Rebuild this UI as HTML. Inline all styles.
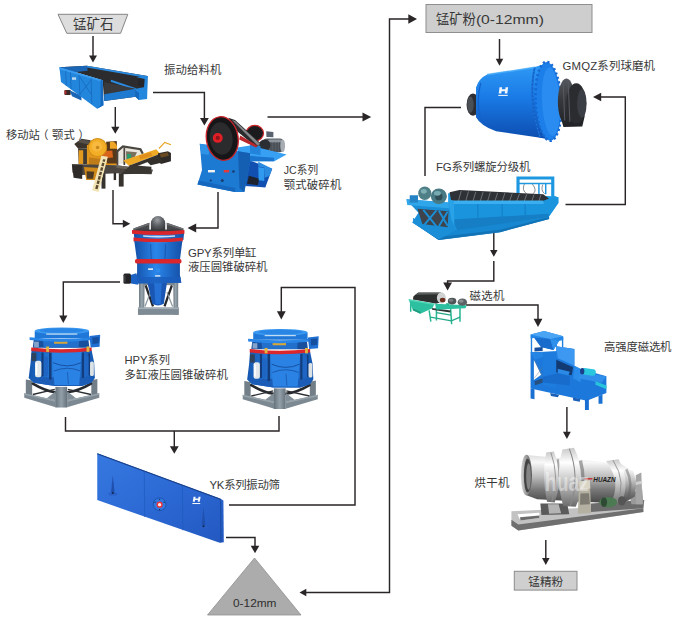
<!DOCTYPE html>
<html lang="zh">
<head>
<meta charset="utf-8">
<title>锰矿石加工流程</title>
<style>
html,body{margin:0;padding:0;background:#fff;}
body{width:700px;height:629px;overflow:hidden;}
svg{display:block;}
text{font-family:"Liberation Sans","Noto Sans CJK SC",sans-serif;fill:#383838;}
.ln{fill:none;stroke:#2a2526;stroke-width:1.45;}
.ah{fill:#2a2526;stroke:none;}
</style>
</head>
<body>
<svg width="700" height="629" viewBox="0 0 700 629">
<defs>
</defs>
<rect width="700" height="629" fill="#ffffff"/>

<!-- ===== flow lines ===== -->
<g id="lines">
<path class="ln" d="M93 36L93 57"/>
<path class="ah" d="M93 62.500L89 55.500L97 55.500Z"/>
<path class="ln" d="M115.300 107L115.300 128"/>
<path class="ah" d="M115.300 133.800L111.200 126.800L119.400 126.800Z"/>
<path class="ln" d="M153 92.500L204.400 92.500L204.400 119"/>
<path class="ah" d="M204.400 125.500L200 118L208.800 118Z"/>
<path class="ln" d="M113 190L113 223.700L123.500 223.700"/>
<path class="ah" d="M130.300 223.700L122.800 219.700L122.800 227.700Z"/>
<path class="ln" d="M218 192L218 228L195 228"/>
<path class="ah" d="M187.500 228L196.200 223.600L196.200 232.400Z"/>
<path class="ln" d="M267.500 117L364 117"/>
<path class="ah" d="M371.200 117L362.500 112.400L362.500 121.600Z"/>
<path class="ln" d="M120 282L63.300 282L63.300 316.500"/>
<path class="ah" d="M63.300 323L59.200 315.500L67.400 315.500Z"/>
<path class="ln" d="M229 505L355 505L355 287.500L281.300 287.500L281.300 312.500"/>
<path class="ah" d="M281.300 319.500L276.900 311.300L285.700 311.300Z"/>
<path class="ln" d="M65.500 417L65.500 431L279 431L279 416"/>
<path class="ln" d="M174.300 431L174.300 447"/>
<path class="ah" d="M174.300 453.800L169.900 446.300L178.700 446.300Z"/>
<path class="ln" d="M226 537.500L255 537.500L255 547"/>
<path class="ah" d="M255 553.200L250.750 545.700L259.250 545.700Z"/>
<path class="ln" d="M409.500 19L389.500 19L389.500 592.500L305.500 592.500"/>
<path class="ah" d="M417 19L408.300 14.250L408.300 23.750Z"/>
<path class="ah" d="M299.500 592.500L306.300 588.700L306.300 596.300Z"/>
<path class="ln" d="M499.500 39L499.500 60"/>
<path class="ah" d="M499.500 65.700L495.750 58.700L503.250 58.700Z"/>
<path class="ln" d="M461 107.500L425 107.500L425 176"/>
<path class="ln" d="M565.500 204.500L625.300 204.500L625.300 97L600 97"/>
<path class="ah" d="M593 97L601.200 92.850L601.200 101.150Z"/>
<path class="ln" d="M493.800 230L493.800 251"/>
<path class="ah" d="M493.800 256.800L490.050 250L497.550 250Z"/>
<path class="ln" d="M493.800 261L493.800 281L447.600 281L447.600 284"/>
<path class="ah" d="M447.600 290.500L443.200 282.500L452 282.500Z"/>
<path class="ln" d="M466 305L538 305L538 320"/>
<path class="ah" d="M538 327L533.600 318.800L542.400 318.800Z"/>
<path class="ln" d="M566.900 407L566.900 433"/>
<path class="ah" d="M566.900 439L563 431.800L570.800 431.800Z"/>
<path class="ln" d="M545.800 540L545.800 559"/>
<path class="ah" d="M545.800 565L542.050 558L549.550 558Z"/>
</g>

<!-- ===== label shapes ===== -->
<g id="shapes">
<path d="M58 14.300H127.800L120.600 33.300H66.800Z" fill="#dddddd" stroke="#858585" stroke-width="1"/>
<rect x="426" y="4.500" width="166" height="28" fill="#cecece" stroke="#8e8e8e" stroke-width="1"/>
<rect x="514.300" y="571.300" width="62.700" height="18.800" fill="#cfcfcf" stroke="#8c8c8c" stroke-width="1"/>
<path d="M254.500 558L301 615H207.500Z" fill="#acacac" stroke="#8f8f8f" stroke-width="0.800"/>
</g>

<!-- ===== machines ===== -->
<g id="m-feeder">
<g transform="translate(50,55) scale(0.15714)">
 <!-- interior / far wall liner -->
 <polygon points="60,78 235,68 620,133 616,276 545,266 345,292 335,160" fill="#2c2c2e"/>
 <!-- left end wall inner face -->
 <polygon points="60,78 235,68 240,100 150,110" fill="#1a66b4"/>
 <!-- far wall top rim -->
 <polygon points="235,68 620,133 620,146 235,80" fill="#2a8ae0"/>
 <polygon points="389,158 548,212 546,224 386,170" fill="#2a8ae0"/>
 <!-- floor highlight -->
 <polygon points="345,172 545,214 345,250" fill="#3a3a3c"/>
 <!-- right end of far wall -->
 <polygon points="548,140 622,134 618,280 566,286 545,268 545,214 598,206 602,152" fill="#2387de"/><polygon points="545,268 566,286 566,240 545,226" fill="#1668be"/>
 <polygon points="562,152 600,156 598,204 560,196" fill="#26262a"/>
 <!-- bottom beam -->
 <polygon points="345,250 545,214 545,266 345,292" fill="#1e7ad0"/>
 <!-- motor stub -->
 <rect x="92" y="222" width="40" height="32" rx="6" fill="#3a2a2a"/>
 <rect x="92" y="226" width="12" height="24" fill="#b03030"/>
 <polygon points="125,225 200,260 200,290 140,262" fill="#1a66b4"/>
 <!-- front panel -->
 <polygon points="60,78 335,160 340,320 300,342 70,172" fill="#2286dc"/>
 <polygon points="60,78 335,160 335,172 60,90" fill="#3a9cf0"/>
 <polygon points="300,342 340,320 335,160 322,158 322,318" fill="#166ac0"/>
 <g stroke="#1668bc" stroke-width="5" fill="none">
  <path d="M100,100 L104,196"/><path d="M130,110 L134,218"/><path d="M185,126 L190,258"/><path d="M262,148 L266,312"/>
  <path d="M190,140 L262,250 M262,160 L190,250"/>
 </g>
 <rect x="140" y="142" width="26" height="16" fill="#dfeaf6" opacity=".8"/>
</g>
</g><!--/m-feeder-->
<g id="m-mobile">
<g transform="translate(65,130) scale(0.17143)">
 <!-- hopper -->
 <polygon points="54,82 96,51 150,60 140,108 76,108" fill="#3a342d"/>
 <polygon points="70,70 98,56 144,64 138,84" fill="#55504a"/>
 <!-- under hopper -->
 <polygon points="76,106 140,108 140,200 80,200" fill="#3f3a34"/>
 <polygon points="80,118 106,118 106,198 80,198" fill="#e39a20"/>
 <!-- body -->
 <polygon points="128,88 300,70 305,205 128,205" fill="#e2971c"/>
 <polygon points="240,68 302,64 306,196 244,196" fill="#57381a"/>
 <path d="M262,70 Q290,56 304,96 L304,110 L262,110Z" fill="#eea424"/>
 <polygon points="218,124 276,120 280,160 214,166" fill="#d8641a"/>
 <circle cx="190" cy="102" r="53" fill="#f4ae26" stroke="#cf8c18" stroke-width="6"/>
 <circle cx="186" cy="96" r="30" fill="#f8bf48" opacity=".7"/>
 <circle cx="190" cy="102" r="10" fill="#c9861a"/>
 <polygon points="140,160 240,170 236,204 140,204" fill="#c07c18"/>
 <!-- cab -->
 <polygon points="308,118 346,96 440,112 452,136 440,180 346,196 308,200" fill="#e9e6de"/>
 <path d="M302,126 L338,96 L440,112 L454,138" fill="none" stroke="#4a4640" stroke-width="13"/>
 <path d="M306,120 L306,204 M346,102 L346,204" stroke="#4a453f" stroke-width="10"/>
 <polygon points="356,124 420,130 400,172 358,184" fill="#7a705e"/>
 <rect x="362" y="140" width="24" height="32" fill="#2a9d6e"/>
 <!-- conveyor -->
 <polygon points="340,178 532,112 556,138 372,208" fill="#eeaa26"/>
 <polygon points="430,150 500,130 510,150 440,172" fill="#e08e1c"/>
 <polygon points="372,208 556,138 562,156 392,222" fill="#36322e"/>
 <polygon points="543,135 600,124 618,134 618,182 560,198 540,180" fill="#2d2a27"/>
 <polygon points="552,140 600,130 606,150 560,162" fill="#6a4a22"/>
 <polygon points="470,176 548,158 580,186 500,206" fill="#33302c"/>
 <path d="M548,108 L582,72 L618,86" fill="none" stroke="#e9a624" stroke-width="7"/>
 <!-- chassis -->
 <polygon points="40,198 300,206 512,232 505,258 300,252 100,262 44,250" fill="#4a4540"/>
 <polygon points="300,206 512,232 508,244 300,222" fill="#6a635a"/>
 <polygon points="42,206 102,204 100,286 50,278" fill="#2e2b28"/>
 <polygon points="110,216 206,222 188,292 124,292" fill="#cf881a"/>
 <polygon points="126,240 170,244 164,284 128,284" fill="#4a3a24"/>
 <polygon points="382,204 504,214 504,254 326,258" fill="#3a3632"/>
 <rect x="213" y="252" width="23" height="90" fill="#36332f"/>
 <rect x="314" y="252" width="28" height="78" fill="#36332f"/>
 <rect x="284" y="250" width="14" height="42" fill="#2e2b29"/>
 <!-- ladder -->
 <polygon points="212,150 250,156 196,362 158,352" fill="#f2e4b4"/>
 <polygon points="222,170 236,172 190,346 176,342" fill="#5a4a30"/>
 <g stroke="#f2e4b4" stroke-width="7"><path d="M214,186 L240,192 M207,212 L233,218 M200,238 L226,244 M194,264 L220,270 M187,290 L213,296 M180,316 L206,322"/></g>
</g>
</g><!--/m-mobile-->
<g id="m-jaw">
<g transform="translate(190,110) scale(0.15)">
 <!-- right lower -->
 <polygon points="395,335 548,392 502,516 368,506" fill="#1150b0"/>
 <polygon points="392,438 462,458 452,502 380,492" fill="#1d2430"/>
 <polygon points="455,345 548,392 530,440 498,452 494,384 455,376" fill="#2a8be0"/><polygon points="455,380 495,386 495,474 458,468" fill="#2f9af0"/>
 <!-- small flywheel -->
 <ellipse cx="432" cy="155" rx="58" ry="52" fill="#1b1b1d" stroke="#c8242a" stroke-width="8"/>
 <!-- motor -->
 <rect x="484" y="190" width="142" height="92" rx="28" fill="#555b63"/>
 <rect x="520" y="196" width="92" height="20" rx="10" fill="#8d949c"/><path d="M540,214 L540,280 M560,214 L560,282 M580,214 L580,282 M598,214 L598,280" stroke="#3e434a" stroke-width="5"/>
 <ellipse cx="618" cy="238" rx="16" ry="42" fill="#a7adb3"/>
 <circle cx="498" cy="234" r="38" fill="#2b2e33"/>
 <polygon points="508,142 556,146 556,182 510,180" fill="#59636f"/>
 <!-- motor platform -->
 <polygon points="316,250 400,236 644,296 562,342 400,342 316,332" fill="#37a0f2"/>
 <polygon points="320,300 560,318 560,342 400,342 320,332" fill="#1b76cf"/>
 <polygon points="400,228 470,240 470,300 400,290" fill="#2183da"/>
 <!-- belt -->
 <polygon points="255,52 300,66 476,226 440,246 300,130" fill="#2b2b2e"/><polygon points="280,66 300,74 468,226 450,236" fill="#85878b"/>
 <polygon points="335,170 450,238 440,250 328,196" fill="#b9262b"/>
 <!-- body -->
 <polygon points="65,225 130,235 320,275 400,288 400,350 362,546 300,546 50,496 80,400" fill="#1d7ad2"/>
 <polygon points="320,275 400,288 400,350 362,546 330,522" fill="#155fb2"/>
 <polygon points="65,225 130,235 125,300 75,292" fill="#2e92e6"/>
 <polygon points="50,496 300,546 302,520 58,470" fill="#1668be"/>
 <rect x="120" y="400" width="46" height="16" fill="#f2f2f2"/>
 <rect x="225" y="400" width="36" height="16" fill="#e63a3a"/>
 <circle cx="215" cy="470" r="10" fill="#173e70"/><circle cx="138" cy="470" r="7" fill="#173e70"/><circle cx="290" cy="410" r="9" fill="#173e70"/>
 <!-- flywheel -->
 <ellipse cx="215" cy="190" rx="106" ry="146" transform="rotate(-8 215 190)" fill="#161618" stroke="#c8242a" stroke-width="9"/>
 <ellipse cx="208" cy="190" rx="76" ry="108" transform="rotate(-8 208 190)" fill="#2b2b2e"/>
 <circle cx="185" cy="186" r="33" fill="#e21f26"/>
 <circle cx="185" cy="186" r="14" fill="#8e1418"/>
</g>
</g><!--/m-jaw-->
<g id="m-gpy">
<g transform="translate(110,210) scale(0.17476)">
 <defs>
  <linearGradient id="gpyB" x1="0" x2="1"><stop offset="0" stop-color="#1450a8"/><stop offset=".45" stop-color="#2a86ea"/><stop offset="1" stop-color="#1450a8"/></linearGradient>
  <radialGradient id="gpyD" cx=".45" cy=".25" r=".75"><stop offset="0" stop-color="#9da1a6"/><stop offset=".5" stop-color="#5b5e63"/><stop offset="1" stop-color="#34363a"/></radialGradient>
  <linearGradient id="gpyS" x1="0" x2="1"><stop offset="0" stop-color="#6e7a84"/><stop offset=".5" stop-color="#9aa6ae"/><stop offset="1" stop-color="#6e7a84"/></linearGradient>
 </defs>
 <!-- stand -->
 <rect x="166" y="408" width="224" height="22" fill="#7c8891"/>
 <polygon points="166,412 198,412 196,600 166,600" fill="url(#gpyS)"/>
 <polygon points="362,412 390,412 390,600 364,600" fill="url(#gpyS)"/>
 <rect x="160" y="558" width="234" height="42" fill="#7f8b94"/>
 <rect x="160" y="558" width="234" height="9" fill="#a3aeb6"/>
 <g stroke="#24262a" stroke-width="13" fill="none"><path d="M204,432 L246,552 M354,432 L312,552"/></g>
 <g stroke="#8b969e" stroke-width="7" fill="none"><path d="M200,552 L232,470 M358,552 L326,470"/></g>
 <!-- inner cone -->
 <path d="M214,416 L326,416 L308,536 Q275,556 242,536Z" fill="#1a56b4"/>
 <polygon points="252,416 296,416 290,540 260,540" fill="#2470d4"/>
 <!-- dome + hopper -->
 <path d="M234,124 L234,76 A41,41 0 0 1 316,76 L316,124Z" fill="url(#gpyD)"/>
 <polygon points="134,106 225,73 225,124 134,124" fill="#47494d"/>
 <polygon points="325,73 420,106 420,124 325,124" fill="#47494d"/>
 <polygon points="134,106 225,73 225,84 134,114" fill="#6c6e72"/><polygon points="325,73 420,106 420,114 325,84" fill="#6c6e72"/>
 <rect x="150" y="112" width="250" height="14" fill="#3a3c40"/>
 <!-- upper band -->
 <path d="M136,132 Q280,146 424,132 L420,172 Q280,186 140,172Z" fill="url(#gpyB)"/>
 <path d="M126,114 Q280,128 426,114 L426,136 Q280,150 126,136Z" fill="#d9252c"/>
 <path d="M134,158 Q280,172 417,158 L416,180 Q280,194 135,180Z" fill="#d9252c"/>
 <path d="M190,149 Q280,156 372,149" stroke="#e8f0fa" stroke-width="9" fill="none" opacity=".85"/>
 <!-- cone -->
 <path d="M139,178 Q280,192 414,178 L399,294 L155,294Z" fill="url(#gpyB)"/>
 <path d="M232,196 L236,282 M318,196 L314,282" stroke="#1650a6" stroke-width="6" opacity=".7"/>
 <!-- lower body -->
 <path d="M155,300 L400,300 L400,372 L408,416 L142,420 L150,372 L155,360Z" fill="url(#gpyB)"/>
 <path d="M150,384 L404,384 L408,416 L142,420Z" fill="#1a5cbc" opacity=".8"/>
 <rect x="143" y="280" width="266" height="26" rx="10" fill="#d9252c"/>
 <rect x="218" y="334" width="28" height="9" fill="#eef3f8"/><circle cx="275" cy="345" r="13" fill="#2f8cec"/><rect x="258" y="372" width="30" height="10" fill="#dfe8f2" opacity=".8"/>
 <!-- knob -->
 <polygon points="118,372 150,362 162,428 120,420" fill="#1b62c4"/>
 <rect x="77" y="364" width="43" height="58" rx="9" fill="#232326"/>
 <rect x="80" y="372" width="10" height="42" rx="4" fill="#3b3c40"/>
</g>
</g><!--/m-gpy-->
<g id="m-hpy1">
<g transform="translate(15,315) scale(0.15898)">
 <defs>
  <linearGradient id="hpyB" x1="0" x2="1"><stop offset="0" stop-color="#1556ae"/><stop offset=".5" stop-color="#2b88ea"/><stop offset="1" stop-color="#1556ae"/></linearGradient>
  <linearGradient id="hpyS" x1="0" x2="1"><stop offset="0" stop-color="#66727c"/><stop offset=".5" stop-color="#93a0a9"/><stop offset="1" stop-color="#66727c"/></linearGradient>
 </defs>
 <!-- stand -->
 <polygon points="68,406 108,412 108,526 68,518" fill="#727e88"/>
 <polygon points="480,410 518,402 518,520 480,528" fill="#727e88"/>
 <polygon points="58,492 256,536 256,580 58,520" fill="#7d8992"/>
 <polygon points="328,536 530,492 530,520 328,580" fill="#7d8992"/>
 <polygon points="58,492 256,536 256,546 58,502" fill="#98a4ac"/><polygon points="328,536 530,492 530,502 328,546" fill="#98a4ac"/>
 <g stroke="#26292d" stroke-width="17" fill="none" stroke-linecap="round"><path d="M112,432 Q190,478 252,486 M478,432 Q400,478 330,486"/></g>
 <g stroke="#2c2f33" stroke-width="9" fill="none"><path d="M112,500 L250,468 M478,500 L332,468"/></g>
 <polygon points="200,524 256,480 256,536" fill="#828e97"/><polygon points="384,524 328,480 328,536" fill="#828e97"/>
 <polygon points="254,452 328,452 328,582 254,582" fill="url(#hpyS)"/>
 <!-- body -->
 <path d="M104,222 L482,222 L498,300 L502,396 L480,426 L420,446 L250,446 L118,426 L86,396 L98,300Z" fill="url(#hpyB)"/>
 <path d="M86,392 L502,392 L480,426 L420,446 L250,446 L118,426Z" fill="#1a5cb6"/>
 <path d="M232,232 L420,232 L404,440 L248,440Z" fill="#2a82e4"/>
 <path d="M240,300 Q330,340 415,300" stroke="#154e9e" stroke-width="6" fill="none"/>
 <path d="M245,352 Q330,318 410,352" stroke="#154e9e" stroke-width="5" fill="none"/>
 <path d="M330,360 L336,436" stroke="#154e9e" stroke-width="4"/>
 <!-- dark gaps -->
 <g fill="#123c7c"><rect x="166" y="236" width="14" height="150"/><rect x="214" y="236" width="16" height="170"/><rect x="420" y="236" width="14" height="160"/><rect x="462" y="240" width="10" height="140"/></g>
 <!-- cylinders -->
 <rect x="126" y="288" width="40" height="104" rx="14" fill="#e4e8eb"/>
 <rect x="130" y="300" width="10" height="80" rx="5" fill="#ffffff"/>
 <rect x="182" y="262" width="26" height="124" rx="8" fill="#1f66c4"/>
 <rect x="472" y="292" width="24" height="92" rx="10" fill="#dde2e5"/>
 <rect x="436" y="258" width="26" height="128" rx="8" fill="#1f66c4"/>
 <rect x="104" y="238" width="30" height="52" fill="#2f435c"/>
 <!-- below flange -->
 <path d="M118,158 L462,158 L468,206 L112,206Z" fill="#18509e"/>
 <path d="M176,160 L404,160 L400,204 L180,204Z" fill="#2270cc"/>
 <rect x="246" y="166" width="84" height="15" fill="#d6a63a"/>
 <rect x="120" y="168" width="30" height="34" fill="#dfe7f0" opacity=".55"/>
 <!-- flange -->
 <path d="M92,140 Q290,160 484,140 L484,158 Q290,178 92,158Z" fill="#2a86e6"/>
 <!-- motor -->
 <polygon points="468,132 536,124 532,200 476,204" fill="#1f70d2"/>
 <polygon points="486,142 528,138 526,178 488,182" fill="#164f9e"/>
 <!-- red ring -->
 <path d="M102,204 Q290,226 482,204 L482,226 Q290,248 102,226Z" fill="#da262d"/>
 <rect x="196" y="198" width="18" height="34" fill="#e2b53c"/><rect x="450" y="198" width="18" height="34" fill="#e2b53c"/>
 <!-- cap -->
 <path d="M124,102 Q290,60 466,102 L466,146 L124,146Z" fill="#1f78d8"/>
 <ellipse cx="295" cy="100" rx="171" ry="22" fill="#3a98f0"/>
 <ellipse cx="295" cy="98" rx="140" ry="14" fill="#2a86e4"/>
 <path d="M196,120 L392,120" stroke="#dce8f5" stroke-width="8" opacity=".85"/>
</g>
</g><!--/m-hpy1-->
<g id="m-hpy2">
<g transform="translate(233.5,316.5) scale(0.15898)">
 <defs>
  <linearGradient id="hpyB2" x1="0" x2="1"><stop offset="0" stop-color="#1556ae"/><stop offset=".5" stop-color="#2b88ea"/><stop offset="1" stop-color="#1556ae"/></linearGradient>
  <linearGradient id="hpyS2" x1="0" x2="1"><stop offset="0" stop-color="#66727c"/><stop offset=".5" stop-color="#93a0a9"/><stop offset="1" stop-color="#66727c"/></linearGradient>
 </defs>
 <!-- stand -->
 <polygon points="68,406 108,412 108,526 68,518" fill="#727e88"/>
 <polygon points="480,410 518,402 518,520 480,528" fill="#727e88"/>
 <polygon points="58,492 256,536 256,580 58,520" fill="#7d8992"/>
 <polygon points="328,536 530,492 530,520 328,580" fill="#7d8992"/>
 <polygon points="58,492 256,536 256,546 58,502" fill="#98a4ac"/><polygon points="328,536 530,492 530,502 328,546" fill="#98a4ac"/>
 <g stroke="#26292d" stroke-width="17" fill="none" stroke-linecap="round"><path d="M112,432 Q190,478 252,486 M478,432 Q400,478 330,486"/></g>
 <g stroke="#2c2f33" stroke-width="9" fill="none"><path d="M112,500 L250,468 M478,500 L332,468"/></g>
 <polygon points="200,524 256,480 256,536" fill="#828e97"/><polygon points="384,524 328,480 328,536" fill="#828e97"/>
 <polygon points="254,452 328,452 328,582 254,582" fill="url(#hpyS2)"/>
 <!-- body -->
 <path d="M104,222 L482,222 L498,300 L502,396 L480,426 L420,446 L250,446 L118,426 L86,396 L98,300Z" fill="url(#hpyB2)"/>
 <path d="M86,392 L502,392 L480,426 L420,446 L250,446 L118,426Z" fill="#1a5cb6"/>
 <path d="M232,232 L420,232 L404,440 L248,440Z" fill="#2a82e4"/>
 <path d="M240,300 Q330,340 415,300" stroke="#154e9e" stroke-width="6" fill="none"/>
 <path d="M245,352 Q330,318 410,352" stroke="#154e9e" stroke-width="5" fill="none"/>
 <path d="M330,360 L336,436" stroke="#154e9e" stroke-width="4"/>
 <!-- dark gaps -->
 <g fill="#123c7c"><rect x="166" y="236" width="14" height="150"/><rect x="214" y="236" width="16" height="170"/><rect x="420" y="236" width="14" height="160"/><rect x="462" y="240" width="10" height="140"/></g>
 <!-- cylinders -->
 <rect x="126" y="288" width="40" height="104" rx="14" fill="#e4e8eb"/>
 <rect x="130" y="300" width="10" height="80" rx="5" fill="#ffffff"/>
 <rect x="182" y="262" width="26" height="124" rx="8" fill="#1f66c4"/>
 <rect x="472" y="292" width="24" height="92" rx="10" fill="#dde2e5"/>
 <rect x="436" y="258" width="26" height="128" rx="8" fill="#1f66c4"/>
 <rect x="104" y="238" width="30" height="52" fill="#2f435c"/>
 <!-- below flange -->
 <path d="M118,158 L462,158 L468,206 L112,206Z" fill="#18509e"/>
 <path d="M176,160 L404,160 L400,204 L180,204Z" fill="#2270cc"/>
 <rect x="246" y="166" width="84" height="15" fill="#d6a63a"/>
 <rect x="120" y="168" width="30" height="34" fill="#dfe7f0" opacity=".55"/>
 <!-- flange -->
 <path d="M92,140 Q290,160 484,140 L484,158 Q290,178 92,158Z" fill="#2a86e6"/>
 <!-- motor -->
 <polygon points="468,132 536,124 532,200 476,204" fill="#1f70d2"/>
 <polygon points="486,142 528,138 526,178 488,182" fill="#164f9e"/>
 <!-- red ring -->
 <path d="M102,204 Q290,226 482,204 L482,226 Q290,248 102,226Z" fill="#da262d"/>
 <rect x="196" y="198" width="18" height="34" fill="#e2b53c"/><rect x="450" y="198" width="18" height="34" fill="#e2b53c"/>
 <!-- cap -->
 <path d="M124,102 Q290,60 466,102 L466,146 L124,146Z" fill="#1f78d8"/>
 <ellipse cx="295" cy="100" rx="171" ry="22" fill="#3a98f0"/>
 <ellipse cx="295" cy="98" rx="140" ry="14" fill="#2a86e4"/>
 <path d="M196,120 L392,120" stroke="#dce8f5" stroke-width="8" opacity=".85"/>
</g>
</g><!--/m-hpy2-->
<g id="m-screen">
<g transform="translate(90,445) scale(0.20714)">
 <defs><linearGradient id="scrB" x1="0" y1="0" x2="1" y2="1"><stop offset="0" stop-color="#3678e0"/><stop offset=".5" stop-color="#2c69d4"/><stop offset="1" stop-color="#2358c0"/></linearGradient></defs>
 <polygon points="35,40 630,260 644,268 646,470 626,472 35,266" fill="url(#scrB)"/>
 <path d="M35,42 L630,262" stroke="#173f86" stroke-width="5"/>
 <path d="M630,262 L632,470" stroke="#184a9c" stroke-width="4"/>
 <path d="M262,128 L264,348 M446,196 L448,412" stroke="#1d58bc" stroke-width="3"/>
 <polygon points="110,146 119,232 101,232" fill="#2050ae"/><ellipse cx="110" cy="236" rx="22" ry="8" fill="#2a60c8"/><circle cx="110" cy="232" r="5" fill="#10264e"/>
 <polygon points="548,300 557,392 539,392" fill="#2050ae"/><ellipse cx="548" cy="396" rx="22" ry="8" fill="#2a60c8"/><circle cx="548" cy="392" r="5" fill="#10264e"/>
 <circle cx="336" cy="286" r="31" fill="#2f78e2" stroke="#1b4ea8" stroke-width="4"/>
 <circle cx="336" cy="288" r="15" fill="#e8343c"/><circle cx="336" cy="288" r="8" fill="#fbe9ea"/>
 <g fill="#10264e"><circle cx="336" cy="262" r="3"/><circle cx="314" cy="276" r="3"/><circle cx="358" cy="276" r="3"/><circle cx="336" cy="312" r="3"/></g>
 <g fill="#f4f7fb"><polygon points="500,250 510,250 506,274 496,274"/><polygon points="524,250 534,250 530,274 520,274"/><polygon points="502,258 530,258 529,265 501,265"/><rect x="494" y="280" width="38" height="5"/></g>
</g>
</g><!--/m-screen-->
<g id="m-ball">
<g transform="translate(455,55) scale(0.21429)">
 <defs>
  <linearGradient id="bmB" x1="0" y1="0" x2="0" y2="1"><stop offset="0" stop-color="#2f9cf6"/><stop offset=".45" stop-color="#1a7ae6"/><stop offset="1" stop-color="#0c4cae"/></linearGradient>
  <linearGradient id="bmK" x1="0" y1="0" x2="0" y2="1"><stop offset="0" stop-color="#55585e"/><stop offset=".5" stop-color="#34363b"/><stop offset="1" stop-color="#232427"/></linearGradient>
 </defs>
 <!-- left hub -->
 <ellipse cx="84" cy="232" rx="30" ry="52" fill="#2c2e33"/>
 <ellipse cx="72" cy="232" rx="15" ry="38" fill="#4a4e55"/>
 <!-- drum -->
 <path d="M98,152 Q110,110 152,90 L372,56 L440,36 L446,396 L398,386 L192,356 Q120,330 98,290Z" fill="url(#bmB)"/>
 <!-- flange -->
 <ellipse cx="436" cy="216" rx="60" ry="184" transform="rotate(-3 436 216)" fill="#1c7ee8"/>
 <ellipse cx="436" cy="216" rx="60" ry="184" transform="rotate(-3 436 216)" fill="none" stroke="#1668d2" stroke-width="12" stroke-dasharray="10 12"/>
 <ellipse cx="448" cy="218" rx="42" ry="160" transform="rotate(-3 448 218)" fill="#2a8cf0"/>
 <path d="M372,56 Q340,210 398,386" stroke="#1462c8" stroke-width="8" fill="none"/>
 <path d="M372,56 Q340,210 398,386" stroke="#3fa6fa" stroke-width="3" fill="none" stroke-dasharray="4 14"/>
 <path d="M120,130 Q96,220 122,310" stroke="#1462c8" stroke-width="6" fill="none"/>
 <path d="M150,92 L372,58" stroke="#4db0fb" stroke-width="8" opacity=".7"/>
 <!-- right hub -->
 <polygon points="492,286 606,282 594,334 506,336" fill="#222326"/>
 <ellipse cx="520" cy="218" rx="40" ry="108" fill="url(#bmK)"/>
 <ellipse cx="566" cy="226" rx="46" ry="94" fill="#2a2c30"/>
 <ellipse cx="592" cy="226" rx="22" ry="66" fill="#3b3e44"/>
 <path d="M505,130 L512,306 M528,122 L536,312" stroke="#55585e" stroke-width="5"/>
 <!-- logo -->
 <g fill="#f2f6fb"><polygon points="208,150 220,150 216,180 204,180"/><polygon points="236,150 248,150 244,180 232,180"/><polygon points="210,160 244,160 243,169 209,169"/><rect x="202" y="186" width="44" height="5"/></g>
</g>
</g><!--/m-ball-->
<g id="m-class">
<g transform="translate(400,170) scale(0.24286)">
 <!-- right frame -->
 <g stroke="#1c97e0" stroke-width="13" fill="none" stroke-linejoin="miter"><path d="M486,112 L486,33 L629,33 L629,112"/></g>
 <g stroke="#1c97e0" stroke-width="6" fill="none"><path d="M486,56 L629,56 M572,56 L572,100 M600,56 L600,100"/></g>
 <g stroke="#59636b" stroke-width="3" fill="none"><path d="M512,58 Q500,84 522,98 M545,58 Q566,84 548,98 M588,60 Q578,84 596,98"/></g>
 <!-- base beam -->
 <polygon points="53,197 153,262 236,238 612,180 614,202 412,256 159,288 56,218" fill="#1687d0"/>
 <polygon points="56,218 159,288 412,256 614,202 614,194 412,246 159,276 56,208" fill="#1273b6"/>
 <!-- trough back + spirals -->
 <polygon points="198,96 636,108 652,112 652,136 612,194 232,246 200,200" fill="#1d9be2"/>
 <polygon points="204,92 245,82 590,100 614,118 586,130 212,134" fill="#2e3136"/>
 <g stroke="#6e7278" stroke-width="4"><path d="M252,86 L240,130 M282,88 L270,130 M312,90 L300,130 M342,91 L330,130 M372,92 L360,130 M402,94 L390,130 M432,95 L420,130 M462,97 L450,130 M492,98 L480,130 M522,100 L511,130 M552,101 L542,130 M580,103 L572,129"/></g>
 <!-- trough front -->
 <polygon points="208,128 590,128 636,108 652,112 652,136 612,194 236,248 210,206" fill="#1b94de"/>
 <polygon points="208,126 590,126 592,140 208,140" fill="#3aaeee"/>
 <polygon points="214,204 612,180 612,194 236,248" fill="#157ec4"/>
 <g stroke="#1580c8" stroke-width="5"><path d="M320,140 L322,230 M420,140 L422,216 M515,140 L516,204"/></g>
 <polygon points="200,120 222,128 224,240 202,228" fill="#2aa2e8"/>
 <!-- left drive -->
 <polygon points="26,120 200,134 212,206 232,246 160,286 50,216 76,176 50,148" fill="#1a8fd8"/>
 <polygon points="72,160 200,170 196,236 92,222" fill="#3f434b"/>
 <g stroke="#1a8fd8" stroke-width="8"><path d="M96,164 L150,232 M150,166 L100,226 M160,168 L196,230 M196,172 L160,232"/></g>
 <polygon points="26,120 200,134 202,158 30,144" fill="#30a6ea"/>
 <ellipse cx="102" cy="96" rx="27" ry="28" fill="#4f8088"/><ellipse cx="160" cy="108" rx="33" ry="32" fill="#477a84"/><ellipse cx="160" cy="110" rx="15" ry="15" fill="#2f4e56"/>
 <ellipse cx="98" cy="88" rx="12" ry="10" fill="#7fb0b6"/><ellipse cx="154" cy="96" rx="14" ry="10" fill="#78aab2"/>
 <rect x="40" y="104" width="34" height="30" fill="#2483c4"/>
</g>
</g><!--/m-class-->
<g id="m-mag">
<g transform="translate(400,285) scale(0.10714)">
 <!-- frame -->
 <g stroke="#28b795" stroke-width="14" fill="none"><path d="M272,236 L288,342 M340,172 L340,332 M472,216 L482,366 M560,206 L560,342 M100,150 L100,250"/></g>
 <g stroke="#25a888" stroke-width="12" fill="none"><path d="M284,300 L480,334 L560,300 M340,258 L476,282"/></g>
 <polygon points="296,214 472,238 470,256 300,232" fill="#2c3332"/>
 <polygon points="330,176 622,190 612,216 340,232" fill="#2cc0a0"/>
 <!-- drum -->
 <polygon points="126,104 170,70 382,70 404,160 330,172 120,136" fill="#2c2f2e"/>
 <polygon points="140,92 176,72 380,72 384,86" fill="#5a605e"/>
 <ellipse cx="386" cy="120" rx="42" ry="52" fill="#cfd1d2"/>
 <ellipse cx="398" cy="140" rx="26" ry="22" fill="#6b2d1c"/>
 <!-- tank -->
 <polygon points="80,134 322,174 302,216 190,268 120,236" fill="#2cc0a0"/>
 <polygon points="80,134 322,174 320,186 84,148" fill="#4fd6b8"/>
 <polygon points="120,236 190,268 192,250 126,222" fill="#1f9a7c"/>
 <!-- motors -->
 <ellipse cx="486" cy="150" rx="40" ry="32" fill="#4f5456"/><ellipse cx="476" cy="142" rx="20" ry="14" fill="#787e80"/>
 <ellipse cx="582" cy="160" rx="44" ry="34" fill="#5c6264"/><ellipse cx="572" cy="150" rx="22" ry="15" fill="#8a9092"/>
 <rect x="430" y="170" width="30" height="20" fill="#28b795"/>
</g>
</g><!--/m-mag-->
<g id="m-himag">
<g transform="translate(520,322) scale(0.15103)">
 <!-- hopper frame -->
 <g stroke="#1f7ede" stroke-width="9" fill="none"><path d="M76,84 L76,205 M282,100 L282,165 M240,125 L240,165"/></g>
 <polygon points="70,82 160,60 286,94 286,120 258,126 222,186 139,166 94,106 70,108" fill="#2286e6"/>
 <polygon points="70,82 160,60 286,94 200,112" fill="#4aa4f4"/>
 <polygon points="96,104 200,112 222,186 139,166" fill="#1a6ccc"/><polygon points="200,112 258,126 222,186" fill="#2f90ec"/>
 <polygon points="96,170 150,166 150,192 96,196" fill="#174f9c"/>
 <!-- body -->
 <polygon points="70,200 240,195 240,160 360,178 360,290 402,312 572,360 572,470 442,522 70,440" fill="#1c78da"/>
 <polygon points="240,160 360,178 360,290 250,240" fill="#3c98f0"/>
 <polygon points="70,200 240,195 250,240 160,230 96,250" fill="#2585e4"/>
 <polygon points="92,252 140,350 92,384" fill="#ffffff"/><polygon points="152,200 240,196 240,440 152,420" fill="#1e7cde"/>
 <path d="M98,256 L150,360 M96,370 L150,300" stroke="#6b7a8c" stroke-width="3"/>
 <polygon points="240,250 352,300 342,352 240,332" fill="#133a72"/>
 <polygon points="250,310 330,330 320,352 250,338" fill="#2b8ae6"/>
 <polygon points="152,362 250,340 330,360 330,420 152,400" fill="#186ccc"/>
 <polygon points="360,290 402,312 402,400 352,372" fill="#2a8cea"/>
 <polygon points="402,332 572,360 542,402 382,372" fill="#318fec"/>
 <polygon points="500,392 572,420 572,446 500,416" fill="#28c4dc"/>
 <polygon points="96,392 150,372 150,402 100,418" fill="#28507e"/>
 <!-- cyan drum -->
 <rect x="404" y="308" width="98" height="44" rx="20" transform="rotate(8 450 330)" fill="#2ac6de"/>
 <ellipse cx="412" cy="326" rx="14" ry="22" fill="#1b3f8a"/>
 <!-- legs -->
 <polygon points="70,440 96,446 96,512 70,506" fill="#1a70d2"/>
 <polygon points="430,516 456,508 456,582 430,582" fill="#1a70d2"/>
 <polygon points="520,490 546,480 546,542 520,542" fill="#1a70d2"/>
 <polygon points="200,470 260,482 250,498 205,490" fill="#1a5fb8"/>
 <polygon points="350,500 400,510 395,528 352,520" fill="#1a5fb8"/>
</g>
</g><!--/m-himag-->
<g id="m-dryer">
<g transform="translate(505,440) scale(0.21429)">
 <defs>
  <linearGradient id="drD" x1="0" y1="0" x2="0" y2="1"><stop offset="0" stop-color="#dedede"/><stop offset=".15" stop-color="#f8f8f8"/><stop offset=".42" stop-color="#c2c2c2"/><stop offset=".72" stop-color="#767676"/><stop offset="1" stop-color="#464646"/></linearGradient>
  <linearGradient id="drR" x1="0" y1="0" x2="0" y2="1"><stop offset="0" stop-color="#c8c8c8"/><stop offset=".25" stop-color="#ffffff"/><stop offset=".6" stop-color="#bdbdbd"/><stop offset="1" stop-color="#6a6a6a"/></linearGradient>
  <linearGradient id="drI" x1="0" y1="0" x2="1" y2="0"><stop offset="0" stop-color="#d8d8d8"/><stop offset="1" stop-color="#5a5a5a"/></linearGradient>
 </defs>
 <!-- frame -->
 <polygon points="30,332 640,304 646,336 62,422 30,400" fill="#c2c2c2"/>
 <polygon points="30,372 62,394 646,318 646,336 62,422 30,400" fill="#6f6f6f"/>
 <polygon points="58,346 160,340 160,364 72,376" fill="#ffffff"/>
 <polygon points="70,360 160,352 160,364 72,376" fill="#6a6a6a"/>
 <!-- supports -->
 <polygon points="165,296 290,296 300,346 170,350" fill="#5a5a5a"/>
 <polygon points="200,300 250,300 262,342 206,344" fill="#b4b4b4"/>
 <polygon points="400,296 650,280 646,318 400,336" fill="#6c6c6c"/>
 <polygon points="580,250 640,230 646,300 590,300" fill="#9a9a9a"/>
 <!-- drum -->
 <polygon points="100,70 540,110 544,298 150,276 100,258" fill="url(#drD)"/>
 <ellipse cx="100" cy="164" rx="26" ry="95" fill="url(#drI)"/>
 <ellipse cx="105" cy="166" rx="17" ry="78" fill="#444444"/>
 <ellipse cx="110" cy="170" rx="11" ry="62" fill="#858585"/>
 <!-- rings -->
 <path d="M192,58 Q170,170 196,288 L232,292 Q274,172 228,54Z" fill="url(#drR)"/><path d="M214,58 Q256,172 218,290" stroke="#8e8e8e" stroke-width="4" fill="none"/><path d="M246,90 Q262,176 250,268" stroke="#6a6a6a" stroke-width="10" fill="none" opacity=".55"/>
 <path d="M268,44 Q232,176 272,308 L330,312 Q392,176 322,36Z" fill="url(#drR)"/>
 <path d="M300,40 Q352,176 304,308" stroke="#8a8a8a" stroke-width="5" fill="none"/><path d="M352,96 Q374,180 356,276" stroke="#555555" stroke-width="16" fill="none" opacity=".5"/>
 <polygon points="536,108 598,146 614,200 606,264 544,300" fill="url(#drD)"/>
 <path d="M472,98 Q548,200 490,300 L540,302 Q590,200 530,90Z" fill="url(#drR)"/>
 <path d="M504,94 Q572,200 518,301" stroke="#8c8c8c" stroke-width="4" fill="none"/>
 <path d="M566,136 Q600,200 572,282" stroke="#606060" stroke-width="12" fill="none" opacity=".45"/>
 <polygon points="610,164 636,152 642,300 612,300" fill="#a6a6a6"/>
 <polygon points="610,196 640,190 640,204 610,210" fill="#d0d0d0"/>
 <!-- gearbox + motor -->
 <polygon points="346,192 396,188 402,342 340,344" fill="#b4b1a2"/><polygon points="352,250 392,248 396,300 350,302" fill="#7d7b72"/>
 <polygon points="346,192 396,188 398,226 348,232" fill="#d9d6c8"/>
 <ellipse cx="482" cy="290" rx="42" ry="24" fill="#4c7a52"/><ellipse cx="462" cy="290" rx="14" ry="22" fill="#2f4a34"/>
 <ellipse cx="545" cy="284" rx="18" ry="22" fill="#555"/>
 <text x="412" y="196" font-size="30" font-weight="bold" font-style="italic" style="fill:#1c1c1c" textLength="104" lengthAdjust="spacingAndGlyphs">HUAZN</text>
 <rect x="372" y="178" width="36" height="6" fill="#c8242a"/>
 <text x="186" y="240" font-size="122" font-weight="bold" style="fill:#ffffff;fill-opacity:.42" textLength="205" lengthAdjust="spacingAndGlyphs">huaz</text>
</g>
</g><!--/m-dryer-->

<!-- ===== text ===== -->
<g id="labels">
<text x="93.300" y="28.700" font-size="13.500" text-anchor="middle">锰矿石</text>
<text x="164" y="73.700" font-size="11.400" textLength="57.500">振动给料机</text>
<text x="6" y="138.700" font-size="11.300">移动站<tspan dx="-2.600">（</tspan><tspan dx="3.500">颚式</tspan><tspan dx="3.400">）</tspan></text>
<text x="283.800" y="173.700" font-size="11.400" textLength="34.200" lengthAdjust="spacingAndGlyphs">JC系列</text>
<text x="283.800" y="188.500" font-size="11.400" textLength="57.500">颚式破碎机</text>
<text x="188" y="256.700" font-size="11.400" textLength="68.500">GPY系列单缸</text>
<text x="188" y="271.200" font-size="11.400" textLength="79.500">液压圆锥破碎机</text>
<text x="124.500" y="364.200" font-size="11.400" textLength="45.500" lengthAdjust="spacingAndGlyphs">HPY系列</text>
<text x="124.500" y="378.500" font-size="11.400" textLength="103.500">多缸液压圆锥破碎机</text>
<text x="209.500" y="489.200" font-size="11.400" textLength="70.500">YK系列振动筛</text>
<text x="233" y="607" font-size="11" textLength="43.500" lengthAdjust="spacingAndGlyphs" style="fill:#2e2e2e">0-12mm</text>
<text x="436" y="24.200" font-size="13.300">锰矿粉<tspan font-size="13.300" textLength="68" lengthAdjust="spacingAndGlyphs">(0-12mm)</tspan></text>
<text x="562.500" y="70.200" font-size="11.400" textLength="92.500">GMQZ系列球磨机</text>
<text x="436" y="170.700" font-size="11.400" textLength="94.500">FG系列螺旋分级机</text>
<text x="469.500" y="299.700" font-size="11.400" textLength="34.800">磁选机</text>
<text x="604" y="350.700" font-size="11.400" textLength="67.500">高强度磁选机</text>
<text x="474.500" y="487.200" font-size="11.400" textLength="34.800">烘干机</text>
<text x="545.750" y="586.300" font-size="11.600" text-anchor="middle">锰精粉</text>
</g>
</svg>
</body>
</html>
